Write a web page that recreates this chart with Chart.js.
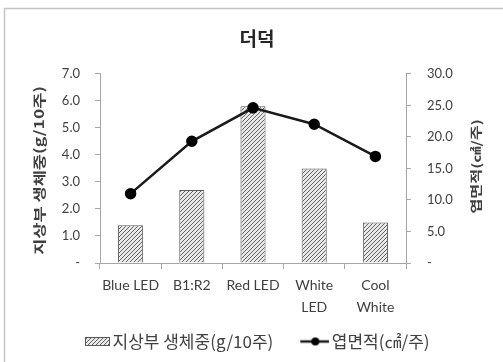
<!DOCTYPE html>
<html>
<head>
<meta charset="utf-8">
<script src="https://cdn.jsdelivr.net/npm/chart.js@4/dist/chart.umd.min.js"></script>
<style>
  html, body { margin: 0; padding: 0; background: #fff; }
  #wrap { position: relative; width: 503px; height: 362px; }
</style>
</head>
<body>
<div id="wrap"><canvas id="chart" width="503" height="362"></canvas></div>
<script>
// ------------ DATA ---------------
const categories = [['Blue LED'], ['B1:R2'], ['Red LED'], ['White', 'LED'], ['Cool', 'White']];
const freshWeight = [1.4, 2.7, 5.8, 3.5, 1.5];      // 지상부 생체중 (g/10주)
const leafArea = [11.0, 19.3, 24.6, 22.0, 16.9];    // 엽면적 (㎠/주)
const leftTicks = [0, 1, 2, 3, 4, 5, 6, 7];
const rightTicks = [0, 5, 10, 15, 20, 25, 30];

const KR = "'Noto Sans CJK KR', 'Noto Sans', sans-serif";
const LAT = "Lato, 'Open Sans', sans-serif";
const textColor = '#404040';
const axisColor = '#a6a6a6';

// diagonal hatch for the bars
function makeHatch() {
  const c = document.createElement('canvas');
  c.width = 4; c.height = 4;
  const g = c.getContext('2d');
  g.fillStyle = '#e8e8e8';
  g.fillRect(0, 0, 4, 4);
  g.strokeStyle = '#636363';
  g.lineWidth = 1;
  g.beginPath();
  g.moveTo(0, 4); g.lineTo(4, 0);
  g.moveTo(-1, 1); g.lineTo(1, -1);
  g.moveTo(3, 5); g.lineTo(5, 3);
  g.stroke();
  return g.createPattern(c, 'repeat');
}
const hatch = makeHatch();

// legend icons, drawn in the right part of a 50px canvas so they sit next to the text
function hatchIcon() {
  const c = document.createElement('canvas');
  c.width = 50; c.height = 9;
  const g = c.getContext('2d');
  g.fillStyle = hatch;
  g.fillRect(25, 0, 25, 9);
  g.strokeStyle = '#595959';
  g.lineWidth = 1;
  g.strokeRect(25.5, 0.5, 24, 8);
  return c;
}
function lineIcon() {
  const c = document.createElement('canvas');
  c.width = 50; c.height = 10;
  const g = c.getContext('2d');
  g.strokeStyle = '#1a1a1a';
  g.lineWidth = 2.5;
  g.beginPath(); g.moveTo(21, 5); g.lineTo(51, 5); g.stroke();
  g.fillStyle = '#000';
  g.beginPath(); g.arc(36, 5, 4, 0, Math.PI * 2); g.fill();
  return c;
}

const tickFmt = v => v === 0 ? '-' : v.toFixed(1);

// outer frame + rotated axis titles
const decor = {
  id: 'decor',
  beforeDraw(chart) {
    const ctx = chart.ctx;
    ctx.save();
    ctx.strokeStyle = '#c4c4c4';
    ctx.lineWidth = 1.5;
    ctx.beginPath();
    ctx.moveTo(4.5, chart.height);
    ctx.lineTo(4.5, 8.5);
    ctx.lineTo(chart.width, 8.5);
    ctx.stroke();
    ctx.restore();
  },
  afterDraw(chart) {
    const {ctx, chartArea} = chart;
    const midY = (chartArea.top + chartArea.bottom) / 2;
    const drawTitle = (text, x, y, size) => {
      ctx.save();
      ctx.translate(x, y);
      ctx.rotate(-Math.PI / 2);
      ctx.scale(1.35, 1);
      ctx.font = 'bold ' + size + 'px ' + KR;
      ctx.fillStyle = textColor;
      ctx.textAlign = 'center';
      ctx.textBaseline = 'middle';
      ctx.fillText(text, 0, 0);
      ctx.restore();
    };
    drawTitle('지상부 생체중(g/10주)', chartArea.left - 61, midY + 2, 13);
    drawTitle('엽면적(㎠/주)', chartArea.right + 70, midY - 2, 12);
  }
};

new Chart(document.getElementById('chart'), {
  data: {
    labels: categories,
    datasets: [
      {
        type: 'line',
        label: '엽면적(㎠/주)',
        data: leafArea,
        yAxisID: 'y1',
        borderColor: '#1a1a1a',
        borderWidth: 2.5,
        pointRadius: 4.5,
        pointBackgroundColor: '#000',
        pointBorderColor: '#000',
        tension: 0
      },
      {
        type: 'bar',
        label: '지상부 생체중(g/10주)',
        data: freshWeight,
        yAxisID: 'y',
        backgroundColor: hatch,
        borderColor: '#595959',
        borderWidth: 1,
        categoryPercentage: 1,
        barPercentage: 0.41
      }
    ]
  },
  options: {
    responsive: false,
    animation: false,
    layout: { padding: { left: 54, right: 43, top: 8, bottom: 2 } },
    plugins: {
      tooltip: { enabled: false },
      title: {
        display: true,
        text: '더덕',
        color: '#262626',
        font: { family: KR, size: 19, weight: 'bold' },
        padding: { top: 19, bottom: 24 }
      },
      legend: {
        position: 'bottom',
        align: 'start',
        labels: {
          usePointStyle: true,
          pointStyleWidth: 38,
          padding: 12,
          color: textColor,
          font: { family: KR, size: 17 },
          generateLabels: () => [
            { text: '지상부 생체중(g/10주)', pointStyle: hatchIcon(), datasetIndex: 1, fontColor: textColor, lineWidth: 0 },
            { text: '엽면적(㎠/주)', pointStyle: lineIcon(), datasetIndex: 0, fontColor: textColor, lineWidth: 0 }
          ]
        }
      }
    },
    scales: {
      x: {
        grid: { drawOnChartArea: false, tickLength: 6, color: axisColor, offset: true },
        border: { color: axisColor },
        ticks: {
          color: textColor,
          font: { family: LAT, size: 14, lineHeight: 1.55 },
          padding: 6,
          maxRotation: 0,
          autoSkip: false
        },
        afterFit: s => { s.height = 58; }
      },
      y: {
        position: 'left',
        min: 0, max: 7,
        afterBuildTicks: s => { s.ticks = leftTicks.map(v => ({ value: v })); },
        grid: { drawOnChartArea: false, tickLength: 5, color: axisColor },
        border: { color: axisColor },
        ticks: { color: textColor, font: { family: LAT, size: 13 }, padding: 15, callback: tickFmt },
        afterFit: s => { s.width = 46; }
      },
      y1: {
        position: 'right',
        min: 0, max: 30,
        afterBuildTicks: s => { s.ticks = rightTicks.map(v => ({ value: v })); },
        grid: { drawOnChartArea: false, tickLength: 5, color: axisColor },
        border: { color: axisColor },
        ticks: { color: textColor, font: { family: LAT, size: 13 }, padding: 16, callback: tickFmt },
        afterFit: s => { s.width = 54; }
      }
    }
  },
  plugins: [decor]
});
</script>
</body>
</html>
